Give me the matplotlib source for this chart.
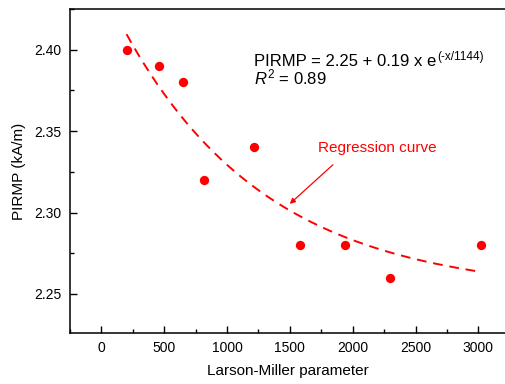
import numpy as np
import matplotlib
matplotlib.use("Agg")
import matplotlib.pyplot as plt
from matplotlib.ticker import MultipleLocator

plt.rcParams['font.family'] = ['Liberation Sans', 'DejaVu Sans']
plt.rcParams['mathtext.fontset'] = 'custom'
plt.rcParams['mathtext.rm'] = 'Liberation Sans'
plt.rcParams['mathtext.it'] = 'Liberation Sans:italic'

# Data
lmp = [200, 456, 647, 820, 1215, 1581, 1937, 2295, 3020]
pirmp = [2.40, 2.39, 2.38, 2.32, 2.34, 2.28, 2.28, 2.26, 2.28]

# Regression parameters shown on the chart
fit_a, fit_b, fit_c = 2.25, 0.19, 1144.0
fit_x_range = (200, 3020)
r2 = 0.89

xticks = [0, 500, 1000, 1500, 2000, 2500, 3000]
yticks = [2.25, 2.30, 2.35, 2.40]

red = '#ff0000'

fig = plt.figure(figsize=(5.06, 3.84), dpi=100)
ax = fig.add_axes([70/506, 51/384, 1 - 70/506, (333-9)/384])

ax.scatter(lmp, pirmp, s=45, color=red, zorder=3, linewidths=0)

xf = np.linspace(fit_x_range[0], fit_x_range[1], 200)
yf = fit_a + fit_b * np.exp(-xf / fit_c)
ax.plot(xf, yf, color=red, lw=1.4, dashes=(5, 3.5))

ax.set_xlim(-250, 3220)
ax.set_ylim(2.226, 2.425)
ax.set_xticks(xticks)
ax.set_yticks(yticks)
ax.set_yticklabels([f"{v:.2f}" for v in yticks])
ax.xaxis.set_minor_locator(MultipleLocator(250))
ax.yaxis.set_minor_locator(MultipleLocator(0.025))
ax.tick_params(which='both', direction='in', top=False, right=False,
               labelsize=10, width=1, colors='black')
ax.tick_params(which='major', length=5, pad=6)
ax.tick_params(which='minor', length=3)
ax.spines['right'].set_visible(False)
for s in ['left', 'bottom', 'top']:
    ax.spines[s].set_linewidth(1.1)

ax.set_xlabel('Larson-Miller parameter', fontsize=11, labelpad=6)
ax.set_ylabel('PIRMP (kA/m)', fontsize=11, labelpad=6)

t = ax.text(1213, 2.390, f'PIRMP = {fit_a:.2f} + {fit_b:.2f} x e',
            fontsize=12, va='baseline', ha='left')
ax.annotate(f'(-x/{fit_c:.0f})', xy=(1.0, 1.0), xycoords=t,
            xytext=(0.5, 2.0), textcoords='offset points',
            fontsize=8.5, va='top', ha='left')
ax.text(1213, 2.3785, f'$\\mathit{{R}}^{{2}}$ = {r2:.2f}',
        fontsize=12, va='baseline', ha='left')

ax.text(1722, 2.3369, 'Regression curve', color=red, fontsize=11,
        va='baseline', ha='left')
ax.annotate('', xy=(1499, 2.3053), xytext=(1842, 2.3293),
            arrowprops=dict(arrowstyle='-|>', color=red, lw=0.9,
                            mutation_scale=8, shrinkA=0, shrinkB=0))

fig.savefig('out.png', dpi=100)
